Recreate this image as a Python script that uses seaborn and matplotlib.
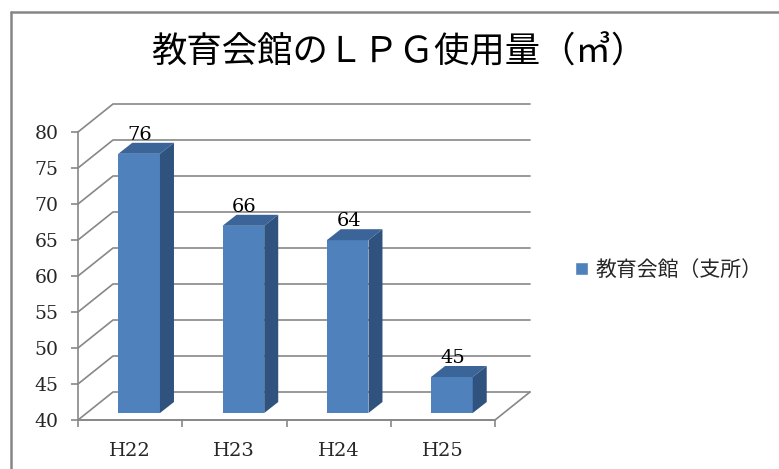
import numpy as np
import matplotlib
matplotlib.use("Agg")
import matplotlib.pyplot as plt
import matplotlib.transforms as mtransforms
from matplotlib.patches import Polygon
from matplotlib.lines import Line2D
import seaborn as sns

categories = ["H22", "H23", "H24", "H25"]
values = [76, 66, 64, 45]
series_name = "教育会館（支所）"
yticks = [40, 45, 50, 55, 60, 65, 70, 75, 80]
title = "教育会館のＬＰＧ使用量（㎥）"

FRONT = "#4F81BD"
TOP = "#3B6498"
SIDE = "#30527E"
GRID = "#878787"

sns.set_theme(style="white")
plt.rcParams["font.family"] = ["DejaVu Serif"]

W, H = 779, 469
fig = plt.figure(figsize=(W / 100, H / 100), dpi=100)

# axes region in pixels (front plane + back wall extension)
px_l, px_r, px_t, px_b = 78, 530, 105, 420
ax = fig.add_axes([px_l / W, 1 - px_b / H, (px_r - px_l) / W, (px_b - px_t) / H])
ax.set_facecolor("none")

df = {"cat": categories, "val": values, "series": [series_name] * len(categories)}
sns.barplot(x=df["cat"], y=df["val"], hue=df["series"], palette=[FRONT],
            width=0.4, ax=ax, legend=True, saturation=1)

xpx_per_unit = 417 / 4.0
ypx_per_unit = 288 / 40.0
ax.set_xlim(-0.5, -0.5 + (px_r - px_l) / xpx_per_unit)
ax.set_ylim(40, 40 + (px_b - px_t) / ypx_per_unit)

# depth offsets (pixels)
WALL_DX, WALL_DY = 35, 28
BAR_OX, BAR_OY = 9, 7
BAR_DX, BAR_DY = 14, 11

ident = mtransforms.IdentityTransform()

def P(x, y, ox=0, oy=0):
    d = ax.transData.transform((x, y))
    return (d[0] + ox, d[1] + oy)

# back wall / left wall gridlines
x0, x1 = -0.5, 3.5
for t in yticks:
    a = P(x0, t)
    b = P(x0, t, WALL_DX, WALL_DY)
    c = P(x1, t, WALL_DX, WALL_DY)
    ax.add_line(Line2D([a[0], b[0], c[0]], [a[1], b[1], c[1]], transform=ident,
                       color=GRID, lw=1.2, zorder=0.5, clip_on=False))
# floor edges
a = P(x0, 40); b = P(x1, 40); c = P(x1, 40, WALL_DX, WALL_DY)
ax.add_line(Line2D([a[0], b[0], c[0]], [a[1], b[1], c[1]], transform=ident,
                   color=GRID, lw=1.2, zorder=0.5, clip_on=False))

# bars with pseudo-3D faces
bar_tr = mtransforms.offset_copy(ax.transData, fig=fig, x=BAR_OX, y=BAR_OY, units="dots")
bars = [p for p in ax.patches if p.get_width() > 0][:len(values)]
for p, v in zip(bars, values):
    bx, bw = p.get_x(), p.get_width()
    p.set_y(40)
    p.set_height(v - 40)
    p.set_transform(bar_tr)
    p.set_zorder(3)
    p.set_edgecolor("none")
    fl = P(bx, v, BAR_OX, BAR_OY)
    fr = P(bx + bw, v, BAR_OX, BAR_OY)
    br = P(bx + bw, 40, BAR_OX, BAR_OY)
    top = Polygon([fl, fr, (fr[0] + BAR_DX, fr[1] + BAR_DY), (fl[0] + BAR_DX, fl[1] + BAR_DY)],
                  closed=True, transform=ident, facecolor=TOP, edgecolor="none",
                  zorder=3, clip_on=False)
    side = Polygon([fr, br, (br[0] + BAR_DX, br[1] + BAR_DY), (fr[0] + BAR_DX, fr[1] + BAR_DY)],
                   closed=True, transform=ident, facecolor=SIDE, edgecolor="none",
                   zorder=3, clip_on=False)
    ax.add_patch(top)
    ax.add_patch(side)
    lab_tr = mtransforms.offset_copy(ax.transData, fig=fig, x=BAR_OX + 1, y=21, units="dots")
    ax.text(bx + bw / 2, v, f"{v}", transform=lab_tr, ha="center", va="baseline",
            fontsize=14, color="black", family=["DejaVu Serif"], zorder=5, clip_on=False)

# axes styling
for s in ["top", "right"]:
    ax.spines[s].set_visible(False)
ax.spines["left"].set_bounds(40, 80)
ax.spines["bottom"].set_bounds(-0.5, 3.5)
for s in ["left", "bottom"]:
    ax.spines[s].set_color(GRID)
    ax.spines[s].set_linewidth(1.2)
ax.set_yticks(yticks)
ax.set_yticklabels([str(t) for t in yticks])
ax.set_xticks(range(len(categories)))
ax.set_xticklabels(categories)
ax.set_xticks([-0.5, 0.5, 1.5, 2.5, 3.5], minor=True)
ax.tick_params(axis="y", which="major", length=5, width=1.2, color=GRID, pad=9,
               labelsize=13.5, left=True)
ax.tick_params(axis="x", which="major", length=0, pad=15.5, labelsize=14)
ax.tick_params(axis="x", which="minor", length=5, width=1.2, color=GRID, bottom=True)
ax.set_xlabel("")
ax.set_ylabel("")

# legend
sns.move_legend(ax, loc="center left", bbox_to_anchor=(1.1, 0.476), frameon=False,
                borderaxespad=0, borderpad=0, handlelength=0.6, handleheight=0.6,
                handletextpad=0.4, title=None,
                prop={"family": ["Noto Sans CJK JP"], "size": 15})

# title
fig.text(0.512, 1 - 53 / H, title, ha="center", va="center", fontsize=25.5,
         family=["Noto Sans CJK JP", "DejaVu Sans"], color="black")

# chart border (left and top visible)
fig.add_artist(Line2D([11 / W, 11 / W], [0, 1 - 12 / H], transform=fig.transFigure,
                      color="#868686", lw=1.8))
fig.add_artist(Line2D([11 / W, 1], [1 - 12 / H, 1 - 12 / H], transform=fig.transFigure,
                      color="#868686", lw=1.8))

fig.savefig("out.png", dpi=100)
